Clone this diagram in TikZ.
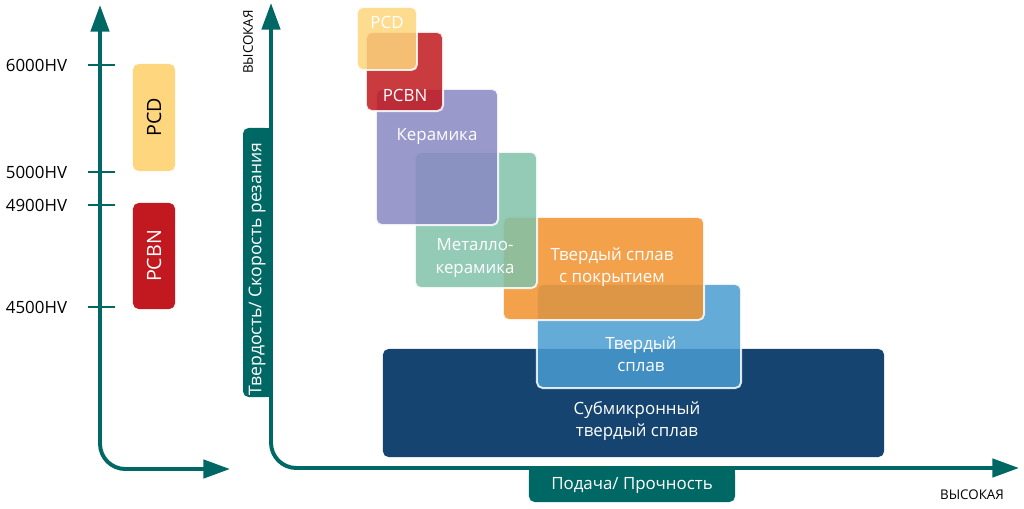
\documentclass[tikz,border=0pt]{standalone}
\usepackage{fontspec}
\setmainfont{Open Sans}
\usetikzlibrary{arrows.meta}
\definecolor{axisteal}{RGB}{0,104,100}
\definecolor{pcdyellow}{RGB}{253,214,125}
\definecolor{pcbnred}{RGB}{193,25,31}
\definecolor{keramlila}{RGB}{135,136,194}
\definecolor{metalgreen}{RGB}{128,194,170}
\definecolor{coatorange}{RGB}{242,145,45}
\definecolor{hardblue}{RGB}{73,156,209}
\definecolor{submicnavy}{RGB}{20,68,111}
\begin{document}
\begin{tikzpicture}
        [x=0.025cm, y=-0.025cm,
        axisline/.style={line width=2.8pt, draw=axisteal, rounded corners=18pt,
            {Triangle[length=19pt,width=13pt]}-{Triangle[length=19pt,width=13pt]}},
        tick/.style={line width=1pt, draw=axisteal},
        hvlabel/.style={anchor=east, font=\fontsize{12}{13}\selectfont},
        hvbox/.style={rotate=90, rounded corners=4pt, inner sep=0pt, outer sep=0pt,
            minimum height=1.05cm, font=\fontsize{14}{16}\selectfont},
        matbox/.style={draw=white, draw opacity=0.85, line width=1.4pt, rounded corners=4pt,
            fill opacity=0.85, inner sep=0pt, outer sep=0pt},
        mattext/.style={text=white, align=center, font=\fontsize{12}{16}\selectfont},
        axisbox/.style={fill=axisteal, rounded corners=4pt, inner sep=0pt, outer sep=0pt,
            text=white, font=\fontsize{12}{14}\selectfont},
        high/.style={font=\fontsize{9.5}{11}\selectfont}]
        \useasboundingbox (0,0) rectangle (1024,508);

        % left scale
        \coordinate (lytip) at (100,5);
        \coordinate (lxtip) at (230,469);
        \draw[axisline] (lytip) |- (lxtip);
        \foreach \y/\t in {65/6000HV, 172/5000HV, 205/4900HV, 307/4500HV}{
            \draw[tick] (88,\y) -- (115,\y);
            \node[hvlabel] (hv\t) at (72,\y) {\t};
        }
        \node[hvbox, fill=pcdyellow, minimum width=2.675cm] (lpcd) at (154,117.5) {PCD};
        \node[hvbox, fill=pcbnred, text=white, minimum width=2.65cm] (lpcbn) at (154,256) {PCBN};

        % main diagram
        \coordinate (ytip) at (271,3);
        \coordinate (xtip) at (1019,468);
        \fill[axisteal] (258,128) rectangle (271,397);
        \node[axisbox, rotate=90, minimum width=6.725cm, minimum height=0.7cm] (ylab) at (257,262.5) {};
        \node[axisbox, rotate=90, fill=none, font=\fontsize{12.5}{14}\selectfont] (ylabtext) at (257,269) {Твердость/ Скорость резания};
        \fill[axisteal] (529,468) rectangle (735,484);
        \node[axisbox, minimum width=5.15cm, minimum height=0.85cm] (xlab) at (632,485) {Подача/ Прочность};
        \draw[axisline] (ytip) |- (xtip);
        \node[high, rotate=90] (yhigh) at (248,42) {ВЫСОКАЯ};
        \node[high] (xhigh) at (972,495) {ВЫСОКАЯ};

        \node[matbox, fill=submicnavy, fill opacity=1, draw=none, minimum width=12.525cm, minimum height=2.7cm] (submic) at (633.5,403) {};
        \node[mattext] (submictext) at (637,421) {Субмикронный\\твердый сплав};
        \node[matbox, fill=hardblue, minimum width=5.1cm, minimum height=2.6cm] (hard) at (639,336) {};
        \node[mattext] (hardtext) at (641,354) {Твердый\\сплав};
        \node[matbox, fill=coatorange, minimum width=5.025cm, minimum height=2.575cm] (coat) at (603.5,268.5) {};
        \node[mattext] (coattext) at (612,267) {Твердый сплав\\с покрытием};
        \node[matbox, fill=metalgreen, minimum width=3.05cm, minimum height=3.4cm] (metal) at (476,220) {};
        \node[mattext] (metaltext) at (475,258) {Металло-\\керамика};
        \node[matbox, fill=keramlila, minimum width=3.05cm, minimum height=3.4cm] (keram) at (437,157) {};
        \node[mattext] (keramtext) at (437,136) {Керамика};
        \node[matbox, fill=pcbnred, minimum width=1.925cm, minimum height=1.975cm] (pcbn) at (404.5,71.5) {};
        \node[mattext] (pcbntext) at (405,95) {PCBN};
        \node[matbox, fill=pcdyellow, minimum width=1.5cm, minimum height=1.575cm] (pcd) at (387,38.5) {};
        \node[mattext] (pcdtext) at (387,22) {PCD};
    \end{tikzpicture}
\end{document}
